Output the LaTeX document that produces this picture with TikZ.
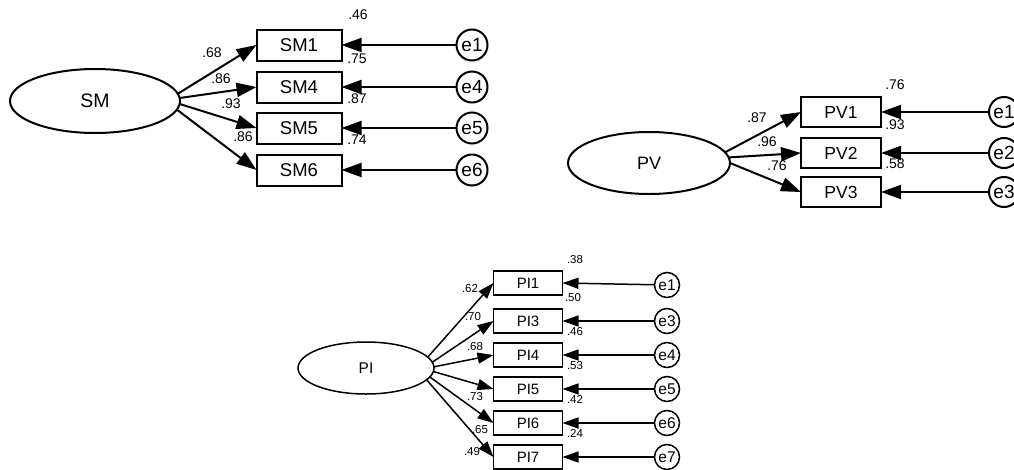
\documentclass[tikz,border=0pt]{standalone}
\usepackage{fontspec}
\setmainfont{Liberation Sans}
\usetikzlibrary{arrows.meta,shapes.geometric}

\tikzset{
	latent/.style={draw,ellipse,line width=2pt,inner sep=0,outer sep=0,font=\fontsize{18}{18}\selectfont},
	indicator/.style={draw,rectangle,line width=2pt,inner sep=0,outer sep=0,font=\fontsize{18.5}{18}\selectfont},
	errnode/.style={draw,circle,line width=2pt,inner sep=0,outer sep=0,font=\fontsize{19}{18}\selectfont},
	coef/.style={inner sep=0,outer sep=0,font=\fontsize{14}{14}\selectfont},
	load/.style={line width=2pt,-{Triangle[length=20pt,width=14pt]}},
	smallcoef/.style={inner sep=0,outer sep=0,font=\fontsize{11.5}{11.5}\selectfont},
	smallload/.style={line width=1.5pt,-{Triangle[length=16pt,width=11pt]}}
}

\begin{document}
\begin{tikzpicture}[x=1pt,y=-1pt]
	\useasboundingbox (0,0) rectangle (1014,469);
	% SM
	\node[latent,minimum width=170pt,minimum height=64pt,font=\fontsize{19.5}{19}\selectfont] (SM) at (95,101) {SM};
	\node[indicator,minimum width=85pt,minimum height=31pt] (SM1) at (299,45) {SM1};
	\node[indicator,minimum width=85pt,minimum height=31pt] (SM4) at (299,87) {SM4};
	\node[indicator,minimum width=85pt,minimum height=31pt] (SM5) at (299,128) {SM5};
	\node[indicator,minimum width=85pt,minimum height=31pt] (SM6) at (299,170) {SM6};
	\node[errnode,minimum size=31pt] (smE1) at (472,45) {e1};
	\node[errnode,minimum size=31pt] (smE4) at (472,87) {e4};
	\node[errnode,minimum size=31pt] (smE5) at (472,128) {e5};
	\node[errnode,minimum size=31pt] (smE6) at (472,170) {e6};
	\draw[load] (SM.5) -- (SM1.west);
	\draw[load] (SM.2.5) -- (SM4.west);
	\draw[load] (SM.-2.5) -- (SM5.west);
	\draw[load] (SM.-6) -- (SM6.west);
	\draw[load] (smE1) -- (SM1.east);
	\draw[load] (smE4) -- (SM4.east);
	\draw[load] (smE5) -- (SM5.east);
	\draw[load] (smE6) -- (SM6.east);
	\node[coef] (smL1) at (212,53) {.68};
	\node[coef] (smL4) at (221,79) {.86};
	\node[coef] (smL5) at (231,104) {.93};
	\node[coef] (smL6) at (243,137) {.86};
	\node[coef] (smR1) at (358,15) {.46};
	\node[coef] (smR4) at (357,59) {.75};
	\node[coef] (smR5) at (357,99) {.87};
	\node[coef] (smR6) at (357,140) {.74};
	% PV
	\node[latent,minimum width=162pt,minimum height=62pt] (PV) at (649,163) {PV};
	\node[indicator,minimum width=80pt,minimum height=30pt,font=\fontsize{17.5}{17}\selectfont] (PV1) at (841,112) {PV1};
	\node[indicator,minimum width=80pt,minimum height=30pt,font=\fontsize{17.5}{17}\selectfont] (PV2) at (841,153) {PV2};
	\node[indicator,minimum width=80pt,minimum height=30pt,font=\fontsize{17.5}{17}\selectfont] (PV3) at (841,192) {PV3};
	\node[errnode,minimum size=30pt] (pvE1) at (1004,112) {e1};
	\node[errnode,minimum size=30pt] (pvE2) at (1004,153) {e2};
	\node[errnode,minimum size=30pt] (pvE3) at (1004,192) {e3};
	\draw[load] (PV.8) -- (PV1.west);
	\draw[load] (PV.4) -- (PV2.west);
	\draw[load] (PV.0) -- (PV3.west);
	\draw[load] (pvE1) -- (PV1.east);
	\draw[load] (pvE2) -- (PV2.east);
	\draw[load] (pvE3) -- (PV3.east);
	\node[coef] (pvL1) at (757,118) {.87};
	\node[coef] (pvL2) at (767,142) {.96};
	\node[coef] (pvL3) at (777,166) {.76};
	\node[coef] (pvR1) at (895,85) {.76};
	\node[coef] (pvR2) at (895,125) {.93};
	\node[coef] (pvR3) at (895,164) {.58};
	% PI
	\node[latent,line width=1.5pt,minimum width=136pt,minimum height=52pt,font=\fontsize{15.5}{15}\selectfont] (PI) at (366,368) {PI};
	\node[indicator,line width=1.5pt,minimum width=69pt,minimum height=24pt,font=\fontsize{15}{15}\selectfont] (PI1) at (528,283) {PI1};
	\node[indicator,line width=1.5pt,minimum width=69pt,minimum height=24pt,font=\fontsize{15}{15}\selectfont] (PI3) at (528,321) {PI3};
	\node[indicator,line width=1.5pt,minimum width=69pt,minimum height=24pt,font=\fontsize{15}{15}\selectfont] (PI4) at (528,355) {PI4};
	\node[indicator,line width=1.5pt,minimum width=69pt,minimum height=24pt,font=\fontsize{15}{15}\selectfont] (PI5) at (528,389) {PI5};
	\node[indicator,line width=1.5pt,minimum width=69pt,minimum height=24pt,font=\fontsize{15}{15}\selectfont] (PI6) at (528,423) {PI6};
	\node[indicator,line width=1.5pt,minimum width=69pt,minimum height=24pt,font=\fontsize{15}{15}\selectfont] (PI7) at (528,457) {PI7};
	\node[errnode,line width=1.5pt,minimum size=25pt,font=\fontsize{15.5}{15}\selectfont] (piE1) at (667,285) {e1};
	\node[errnode,line width=1.5pt,minimum size=25pt,font=\fontsize{15.5}{15}\selectfont] (piE3) at (667,321) {e3};
	\node[errnode,line width=1.5pt,minimum size=25pt,font=\fontsize{15.5}{15}\selectfont] (piE4) at (667,355) {e4};
	\node[errnode,line width=1.5pt,minimum size=25pt,font=\fontsize{15.5}{15}\selectfont] (piE5) at (667,389) {e5};
	\node[errnode,line width=1.5pt,minimum size=25pt,font=\fontsize{15.5}{15}\selectfont] (piE6) at (667,423) {e6};
	\node[errnode,line width=1.5pt,minimum size=25pt,font=\fontsize{15.5}{15}\selectfont] (piE7) at (667,457) {e7};
	\draw[smallload] (PI.10) -- (PI1.west);
	\draw[smallload] (PI.5) -- (PI3.west);
	\draw[smallload] (PI.1) -- (PI4.west);
	\draw[smallload] (PI.-3) -- (PI5.west);
	\draw[smallload] (PI.-8) -- (PI6.west);
	\draw[smallload] (PI.-11) -- (PI7.west);
	\draw[smallload] (piE1) -- (PI1.east);
	\draw[smallload] (piE3) -- (PI3.east);
	\draw[smallload] (piE4) -- (PI4.east);
	\draw[smallload] (piE5) -- (PI5.east);
	\draw[smallload] (piE6) -- (PI6.east);
	\draw[smallload] (piE7) -- (PI7.east);
	\node[smallcoef] (piL1) at (470,289) {.62};
	\node[smallcoef] (piL3) at (473,317) {.70};
	\node[smallcoef] (piL4) at (475,347) {.68};
	\node[smallcoef] (piL5) at (475,397) {.73};
	\node[smallcoef] (piL6) at (480,430) {.65};
	\node[smallcoef] (piL7) at (472,452) {.49};
	\node[smallcoef] (piR1) at (575,260) {.38};
	\node[smallcoef] (piR3) at (573,298) {.50};
	\node[smallcoef] (piR4) at (575,332) {.46};
	\node[smallcoef] (piR5) at (575,366) {.53};
	\node[smallcoef] (piR6) at (575,399) {.42};
	\node[smallcoef] (piR7) at (575,433) {.24};
\end{tikzpicture}
\end{document}
